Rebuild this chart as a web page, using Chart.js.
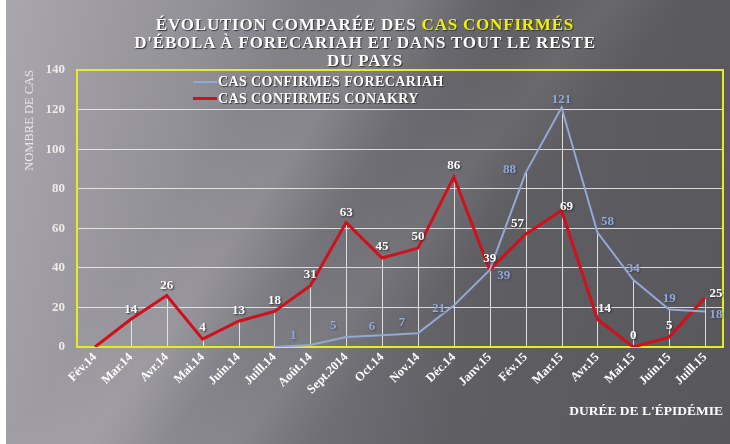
<!DOCTYPE html>
<html>
<head>
<meta charset="utf-8">
<script src="https://cdn.jsdelivr.net/npm/chart.js@4/dist/chart.umd.min.js"></script>
<style>
html,body{margin:0;padding:0;width:730px;height:444px;overflow:hidden;background:#fff;}
#wrap{position:absolute;left:6px;top:0;width:724px;height:444px;
background:
 linear-gradient(125deg, rgba(255,255,255,0) 30%, rgba(255,255,255,0.10) 38%, rgba(255,255,255,0) 46%),
 linear-gradient(130deg, rgba(255,255,255,0) 48%, rgba(255,255,255,0.07) 55%, rgba(255,255,255,0) 62%),
 linear-gradient(100deg, #a9a7ad 0%, #929097 25%, #747379 45%, #5f5e63 65%, #58575c 100%);}
#title{position:absolute;left:0;top:16px;width:730px;text-align:center;font-family:"Liberation Serif",serif;font-weight:bold;font-size:17px;letter-spacing:0.8px;line-height:18px;color:#fff;text-shadow:1px 1px 1px #333;}
#title .y{color:#f0f000;}
canvas{position:absolute;left:0;top:0;}
#legend{position:absolute;left:193px;top:73px;font-family:"Liberation Serif",serif;font-weight:bold;font-size:14px;letter-spacing:0.4px;color:#fff;line-height:17px;text-shadow:1px 1px 1px #333;}
#legend div{display:flex;align-items:center;}
#legend span.l{display:inline-block;width:24px;margin-right:1px;}
</style>
</head>
<body>
<div id="wrap"></div>
<canvas id="c" width="730" height="444"></canvas>
<div id="title">ÉVOLUTION COMPARÉE DES <span class="y">CAS CONFIRMÉS</span><br>D'ÉBOLA À FORECARIAH ET DANS TOUT LE RESTE<br>DU PAYS</div>
<div id="legend">
<div><span class="l" style="border-top:2px solid #93a8d6"></span>CAS CONFIRMES FORECARIAH</div>
<div><span class="l" style="border-top:3px solid #d0101a"></span>CAS CONFIRMES CONAKRY</div>
</div>
<script>
const categories = ["Fév.14","Mar.14","Avr.14","Mai.14","Juin.14","Juill.14","Août.14","Sept.2014","Oct.14","Nov.14","Déc.14","Janv.15","Fév.15","Mar.15","Avr.15","Mai.15","Juin.15","Juill.15"];
const forecariah = [null,null,null,null,null,0,1,5,6,7,21,39,88,121,58,34,19,18];
const conakry = [0,14,26,4,13,18,31,63,45,50,86,39,57,69,14,0,5,25];
const yTicks = [0,20,40,60,80,100,120,140];

const blueOffsets = [null,null,null,null,null,null,[-17,-9],[-13,-11],[-10,-8],[-16,-11],[-15,3],[14,6],[-16,-3],[0,-8],[10,-11],[0,-11],[0,-11],[11,3]];
const redOffsets = [null,[0,-10],[0,-10],[0,-11],[0,-11],[0,-11],[0,-11],[0,-10],[0,-11],[0,-11],[0,-11],[0,-11],[-8,-11],[5,-4],[7,-11],[0,-11],[0,-11],[11,-4]];

const frame = {
  id:'frame',
  beforeDatasetsDraw(chart){
    const {ctx, chartArea:a, scales} = chart;
    ctx.save();
    ctx.strokeStyle='rgba(235,235,235,0.9)';
    ctx.lineWidth=1;
    categories.forEach((c,i)=>{
      const v = Math.max(forecariah[i]??0, conakry[i]??0);
      const x = Math.round(scales.x.getPixelForValue(i))+0.5;
      ctx.beginPath(); ctx.moveTo(x, a.bottom); ctx.lineTo(x, scales.y.getPixelForValue(v)); ctx.stroke();
    });
    ctx.strokeStyle='#e8ec1e';
    ctx.lineWidth=2;
    ctx.strokeRect(a.left, a.top, a.right-a.left, a.bottom-a.top);
    ctx.restore();
  },
  afterDatasetsDraw(chart){
    const {ctx, scales} = chart;
    ctx.save();
    ctx.font='bold 13px "Liberation Serif", serif';
    ctx.textAlign='center'; ctx.textBaseline='middle';
    const draw=(arr,offs,color,shadow)=>{
      arr.forEach((v,i)=>{
        if(v===null||!offs[i]) return;
        const x=scales.x.getPixelForValue(i)+offs[i][0];
        const y=scales.y.getPixelForValue(v)+offs[i][1];
        ctx.shadowColor=shadow; ctx.shadowBlur=2; ctx.shadowOffsetX=1; ctx.shadowOffsetY=1;
        ctx.fillStyle=color; ctx.fillText(String(v),x,y);
      });
    };
    draw(forecariah, blueOffsets, '#8ea8dc', 'rgba(40,40,40,0.5)');
    draw(conakry, redOffsets, '#ffffff', 'rgba(40,40,40,0.9)');
    ctx.restore();
  }
};

new Chart(document.getElementById('c'), {
  type:'line',
  data:{
    labels:categories,
    datasets:[
      {label:'CAS CONFIRMES FORECARIAH', data:forecariah, borderColor:'#93a8d6', borderWidth:2, pointRadius:0, tension:0, spanGaps:false},
      {label:'CAS CONFIRMES CONAKRY', data:conakry, borderColor:'#d0101a', borderWidth:3, pointRadius:0, tension:0}
    ]
  },
  options:{
    responsive:false, animation:false,
    layout:{padding:{left:22,right:7,top:70,bottom:24}},
    plugins:{legend:{display:false}, tooltip:{enabled:false}},
    scales:{
      x:{
        offset:true,
        grid:{display:false, drawTicks:false},
        border:{display:false},
        ticks:{color:'#ffffff', font:{family:'"Liberation Serif", serif', weight:'bold', size:12.5}, maxRotation:45, minRotation:45, padding:3, autoSkip:false},
        title:{display:true, text:"DURÉE DE L'ÉPIDÉMIE", align:'end', color:'#ffffff', font:{family:'"Liberation Serif", serif', weight:'bold', size:13.5}, padding:{top:0,bottom:0}},
        afterFit(s){ s.height = 73; }
      },
      y:{
        min:0, max:140,
        afterBuildTicks(s){ s.ticks = yTicks.map(v=>({value:v})); },
        grid:{color:(c)=> (c.tick.value===0||c.tick.value===140)?'rgba(0,0,0,0)':'rgba(240,240,240,0.85)', lineWidth:1, drawTicks:false},
        border:{display:false},
        ticks:{color:'#ececec', font:{family:'"Liberation Serif", serif', weight:'bold', size:13}, padding:12},
        title:{display:true, text:'NOMBRE DE CAS', align:'end', color:'#e6e6e6', font:{family:'"Liberation Serif", serif', weight:'normal', size:12.5}, padding:{top:0,bottom:0}},
        afterFit(s){ s.width = 55; }
      }
    }
  },
  plugins:[frame]
});
</script>
</body>
</html>
